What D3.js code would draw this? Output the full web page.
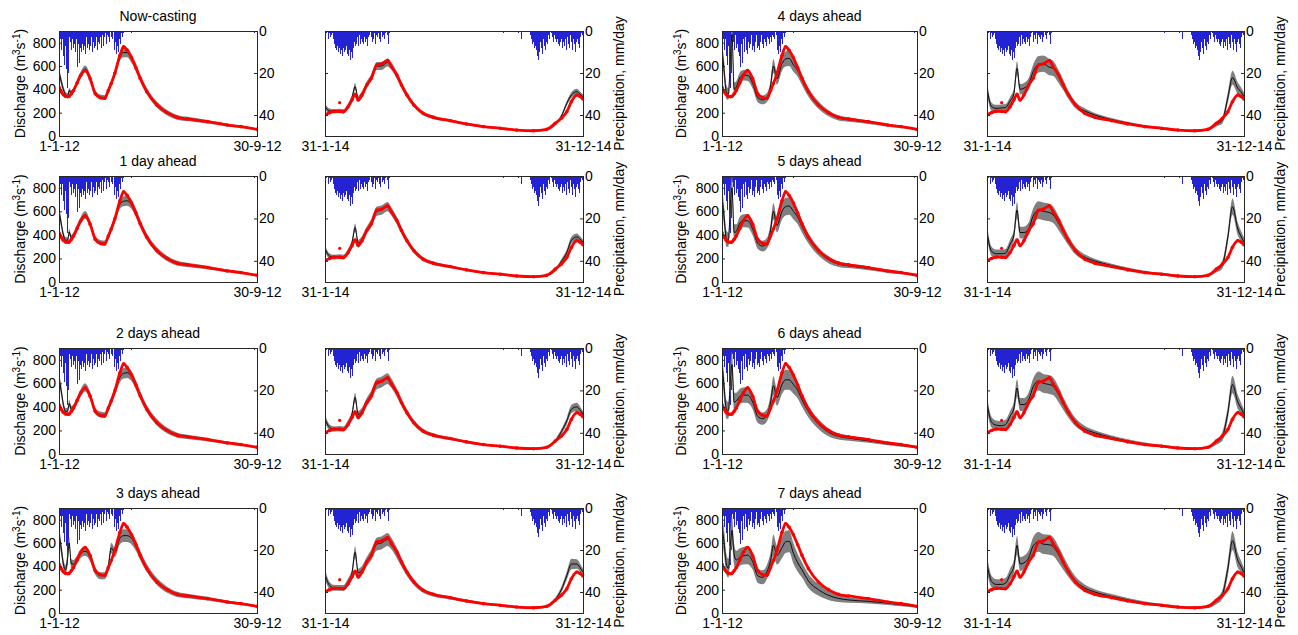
<!DOCTYPE html>
<html>
<head>
<meta charset="utf-8">
<script src="https://cdnjs.cloudflare.com/ajax/libs/d3/7.8.5/d3.min.js"></script>
<style>
body { margin: 0; background: #fff; }
text { font-family: "Liberation Sans", Arial, sans-serif; }
</style>
</head>
<body>
<svg id="fig" width="1298" height="635"></svg>
<script>
(function () {
// ---- data ----
var horizons = ['Now-casting', '1 day ahead', '2 days ahead', '3 days ahead',
                '4 days ahead', '5 days ahead', '6 days ahead', '7 days ahead']

// day offsets from 1-1-12 and 31-1-14
var days2012 = [0,3,6,9,12,14,17,20,25,30,36,43,50,57,63,68,72,77,84,89,94,100,106,112,121,135,149,163,177,205,232,251,273]
var days2014 = [0,6,12,19,24,30,35,39,43,48,54,60,67,73,81,86,93,99,106,115,127,140,162,183,205,227,248,270,287,298,306,313,319,326,330,334]

// observed discharge (m3/s)
var obs2012 = [417,380,355,340,337,340,362,390,455,520,562,490,362,328,323,390,450,537,690,765,735,670,585,494,380,266,200,160,146,123,94,80,57]
var obs2014 = [180,200,212,210,208,251,310,357,309,351,437,494,609,617,646,594,523,437,351,266,194,160,131,103,80,66,51,45,57,109,152,208,294,351,340,317]
var obsOutlier2014 = [19, 286]

// ensemble median per horizon
var median2012 = [
  [551,470,400,355,345,390,370,392,460,525,575,500,370,335,330,395,455,540,680,715,715,665,590,500,385,270,200,160,146,123,94,80,57],
  [603,500,400,355,355,425,375,395,460,525,570,495,368,335,330,390,450,535,660,685,690,660,590,500,385,270,200,160,146,123,94,80,57],
  [645,540,420,360,365,430,380,395,455,520,565,495,365,335,330,390,450,530,650,685,690,660,590,500,385,270,200,160,146,123,94,80,57],
  [671,560,420,370,480,600,420,420,460,510,530,480,360,320,320,400,557,520,640,663,663,640,580,495,385,270,200,160,146,123,94,80,57],
  [740,560,380,360,700,870,400,420,500,520,520,450,330,310,330,430,600,490,620,660,665,610,560,480,375,265,195,155,140,118,92,78,57],
  [720,550,370,360,680,800,420,430,500,520,520,450,330,305,330,440,600,480,600,640,645,600,550,470,370,260,190,152,138,116,90,76,57],
  [780,560,380,370,650,760,440,450,490,500,500,440,320,300,330,440,580,480,590,630,630,590,540,460,360,255,185,150,135,112,88,74,57],
  [740,600,420,383,600,709,500,454,480,490,496,440,320,306,354,450,581,496,560,610,615,511,430,370,275,200,152,125,112,100,85,71,57]
]
var median2014 = [
  [251,215,212,215,212,260,330,423,320,360,440,500,600,600,630,600,520,440,355,268,195,160,131,103,80,66,51,45,55,100,170,280,351,380,360,337],
  [283,220,212,215,212,262,335,462,330,365,440,500,600,610,640,600,520,440,355,268,195,160,131,103,80,66,51,45,55,100,175,250,354,382,365,337],
  [300,225,212,215,212,265,340,480,335,365,440,500,595,610,640,600,520,440,355,268,195,160,131,103,80,66,51,45,55,110,190,280,380,400,375,337],
  [330,235,215,215,215,270,345,520,345,370,440,500,590,600,630,595,515,435,350,265,193,158,130,103,80,66,51,45,55,115,200,320,420,420,390,350],
  [409,251,237,240,244,300,366,580,400,410,445,551,615,620,590,580,510,440,350,265,215,180,140,110,85,68,52,45,55,100,137,330,500,409,380,337],
  [420,260,240,240,245,320,400,610,420,420,450,560,610,600,590,570,500,430,350,265,210,178,140,110,85,68,52,45,55,100,150,380,640,450,390,340],
  [430,270,245,240,250,320,390,560,420,420,460,570,620,600,590,575,505,430,350,270,212,180,140,110,85,68,52,45,55,100,150,350,590,440,390,340],
  [420,270,245,245,255,330,400,580,420,430,470,575,610,590,585,570,500,430,355,275,215,180,142,112,86,68,52,45,55,100,160,380,620,450,400,345]
]

// half width of the ensemble band per horizon
var spread2012 = [
  [40,35,30,25,22,22,22,22,25,28,30,28,22,20,20,22,25,30,35,40,40,38,35,30,28,25,22,20,18,15,12,10,8],
  [45,40,30,28,25,28,25,25,28,30,32,30,25,22,22,25,28,32,38,42,42,40,36,32,28,25,22,20,18,15,12,10,8],
  [50,45,35,30,30,32,28,28,30,32,35,32,28,25,25,28,32,35,42,45,45,42,38,34,30,27,24,21,18,15,12,10,8],
  [70,60,45,40,60,50,40,35,35,38,40,38,32,30,30,35,45,40,50,55,55,52,46,40,34,30,26,22,19,16,13,11,9],
  [90,80,60,50,100,90,60,50,45,45,48,45,40,38,38,45,60,50,60,65,65,60,52,45,38,32,26,22,18,15,12,10,9],
  [100,90,70,60,110,100,70,60,55,55,58,55,48,45,45,55,70,60,70,75,75,70,60,52,44,36,30,24,20,16,13,11,10],
  [110,100,80,70,120,110,80,70,65,65,68,62,55,52,52,62,80,70,80,85,85,78,68,58,50,42,34,27,22,17,14,12,10],
  [120,110,90,80,130,120,90,80,75,75,78,70,62,60,60,70,90,80,90,95,95,88,76,65,60,50,40,30,24,18,16,14,12]
]
var spread2014 = [
  [25,20,18,18,18,20,25,30,25,25,28,30,35,35,35,32,30,28,25,20,17,15,12,10,9,8,7,7,8,12,16,20,25,25,22,20],
  [30,22,20,20,20,22,28,35,28,28,30,35,40,40,40,35,32,30,26,21,18,15,12,10,9,8,7,7,8,14,19,25,30,30,25,22],
  [35,25,22,22,22,25,30,40,30,30,35,40,45,45,45,40,35,32,28,23,19,16,13,11,10,9,8,8,9,15,22,30,35,35,30,25],
  [45,30,25,25,25,30,35,50,35,35,40,45,55,55,55,50,45,38,32,25,20,16,14,12,10,9,8,8,9,16,25,35,45,40,35,30],
  [55,35,30,30,30,35,45,60,45,45,50,60,70,70,70,65,55,45,35,28,22,17,14,12,10,9,8,7,9,18,30,45,60,50,40,35],
  [60,40,35,35,35,40,50,70,50,50,55,65,75,75,75,70,60,50,40,32,25,20,16,13,11,10,9,8,10,20,35,50,70,55,45,38],
  [65,45,40,40,40,45,55,75,55,55,60,70,80,80,80,75,65,55,45,35,28,22,18,15,12,11,10,9,11,22,38,55,75,60,48,40],
  [70,50,45,45,45,50,60,80,60,60,65,75,85,85,85,80,70,60,48,38,30,24,20,16,13,12,11,10,12,25,40,60,80,65,50,42]
]

// daily precipitation (mm/day)
var rain2012 = [5,8,4,6,9,4,12,16,10,7, 18,6,27,20,3,0,5,9,4,2, 8,3,6,10,4,12,17,6,15,8,
  4,10,6,3,9,7,11,5,3,8, 6,2,9,4,7,3,10,5,2,8, 4,7,3,9,5,2,6,3,8,4, 2,5,7,3,1,4,6,2,3,5,
  2,0,3,1,4,0,2,9,5,11, 7,3,10,4,2,6,1,3,0,1, 0,0,0,0,0,0,0,0,0,0,1]
var rain2012Late = [1]          // from day 269
var rain2014Spring = [3,5,1,0,2,4,1,3,2,0, 1,4,6,8,5,9,7,10,6,8, 11,7,9,12,8,10,6,9,7,11,
  8,12,9,14,10,6,13,8,5,7, 4,6,3,7,5,2,6,4,3,5, 6,3,2,5,4,7,3,2,1,0, 3,5,2,4,1,3,6,2,3,1,
  4,2,5,0,3,0,2,4,1,0, 0,2,6,0,1,0,0,0]
var rain2014Autumn = [0,0,0,1,0,0,0,0,0,0,0,0, 0,0,0,0,0,0,0,0,0,0,1,0, 0,0,4,0,0,0,0,0,0,0,0,0,
  0,0,2,4,3,6,5,8,7,4,9,12, 14,6,10,5,8,11,6,4,7,9,3,5, 6,2,4,3,0,1,2,3,5,2,4,3,
  5,4,6,3,7,5,4,8,6,5,7,4, 9,5,3,6,4,8,2,5,7,9,4,6, 10,3,5,4,6,2,8,3,1,2,1]   // from day 228

var qTicks = [0, 200, 400, 600, 800]
var pTicks = [0, 20, 40]

// ---- layout ----
var rows = [[31, 136], [176, 282], [348, 454], [508, 613]]
var cols = [
  {a: [59, 257], b: [325, 583], qLab: 25, pLab: 624},
  {a: [722, 917], b: [987, 1244], qLab: 686, pLab: 1285}
]

var toRain = (arr, from) => arr.map((mm, i) => ({day: from + i, mm: mm}))

var periods = [
  {start: new Date(2012, 0, 1), end: new Date(2012, 8, 30), span: 273, days: days2012, obs: obs2012,
   med: median2012, spr: spread2012, rain: toRain(rain2012, 0).concat(toRain(rain2012Late, 269))},
  {start: new Date(2014, 0, 31), end: new Date(2014, 11, 31), span: 334, days: days2014, obs: obs2014,
   med: median2014, spr: spread2014, rain: toRain(rain2014Spring, 0).concat(toRain(rain2014Autumn, 228)),
   outlier: obsOutlier2014}
]

var svg = d3.select('#fig')
var fmt = d3.timeFormat('%-d-%-m-%y')
var clipId = 0

var styleAxis = g => {
  g.select('.domain').remove()
  g.attr('font-size', 14).attr('font-family', '"Liberation Sans", Arial, sans-serif')
  g.selectAll('line').attr('stroke', '#262626')
}

function panel(px, py, per, h, first) {
  var x = d3.scaleTime().domain([per.start, per.end]).range(px)
  var yQ = d3.scaleLinear().domain([0, 900]).range([py[1], py[0]])
  var yP = d3.scaleLinear().domain([0, 50]).range([py[0], py[1]])
  var date = d => d3.timeDay.offset(per.start, d)
  var id = 'clip' + (clipId++)
  svg.append('clipPath').attr('id', id).append('rect')
    .attr('x', px[0]).attr('y', py[0]).attr('width', px[1] - px[0]).attr('height', py[1] - py[0])
  var g = svg.append('g').attr('clip-path', 'url(#' + id + ')')
  var w = Math.max(1, (px[1] - px[0]) / per.span)

  g.selectAll('rect.rain').data(per.rain.filter(d => d.mm > 0)).enter()
    .append('rect')
    .attr('x', d => x(date(d.day)) - w / 2)
    .attr('y', py[0])
    .attr('width', w)
    .attr('height', d => yP(d.mm) - py[0])
    .attr('fill', '#2323d4')
    .attr('shape-rendering', 'crispEdges')

  var med = per.med[h], spr = per.spr[h]
  var idx = d3.range(per.days.length)
  g.append('path')
    .attr('d', d3.area()
      .x(i => x(date(per.days[i])))
      .y0(i => yQ(Math.max(0, med[i] - spr[i])))
      .y1(i => yQ(med[i] + spr[i]))
      .curve(d3.curveMonotoneX)(idx))
    .attr('fill', '#808080')
  g.append('path')
    .attr('d', d3.line().x(i => x(date(per.days[i]))).y(i => yQ(med[i])).curve(d3.curveMonotoneX)(idx))
    .attr('fill', 'none').attr('stroke', '#000').attr('stroke-width', 0.9)
  g.append('path')
    .attr('d', d3.line().x(i => x(date(per.days[i]))).y(i => yQ(per.obs[i])).curve(d3.curveMonotoneX)(idx))
    .attr('fill', 'none').attr('stroke', '#ff0000').attr('stroke-width', 2.8)
  g.selectAll('circle.obs').data(idx).enter()
    .append('circle')
    .attr('cx', i => x(date(per.days[i])))
    .attr('cy', i => yQ(per.obs[i]))
    .attr('r', 1.8).attr('fill', '#ff0000')
  if (per.outlier) {
    g.append('circle')
      .attr('cx', x(date(per.outlier[0]))).attr('cy', yQ(per.outlier[1]))
      .attr('r', 1.6).attr('fill', '#ff0000')
  }

  // frame and axes
  svg.append('rect')
    .attr('x', px[0] + 0.5).attr('y', py[0] + 0.5)
    .attr('width', px[1] - px[0]).attr('height', py[1] - py[0])
    .attr('fill', 'none').attr('stroke', '#262626').attr('stroke-width', 1)

  svg.append('g').attr('transform', 'translate(0,' + py[1] + ')')
    .call(d3.axisBottom(x).tickValues([per.start, per.end]).tickFormat(fmt).tickSize(-3).tickPadding(5))
    .call(styleAxis)

  svg.append('g').attr('transform', 'translate(' + px[1] + ',0)')
    .call(d3.axisRight(yP).tickValues(pTicks).tickSize(-3).tickPadding(2))
    .call(styleAxis)

  if (first) {
    svg.append('g').attr('transform', 'translate(' + px[0] + ',0)')
      .call(d3.axisLeft(yQ).tickValues(qTicks).tickSize(-3).tickPadding(3))
      .call(styleAxis)
  } else {
    svg.append('g').attr('transform', 'translate(' + px[0] + ',0)')
      .call(d3.axisLeft(yP).tickValues([20, 40]).tickSize(-3).tickFormat(''))
      .call(styleAxis)
  }
}

cols.forEach((col, c) => {
  rows.forEach((py, r) => {
    var h = c * 4 + r
    panel(col.a, py, periods[0], h, true)
    panel(col.b, py, periods[1], h, false)
    var cy = (py[0] + py[1]) / 2

    svg.append('text')
      .attr('x', (col.a[0] + col.a[1]) / 2).attr('y', py[0] - 10)
      .attr('text-anchor', 'middle').attr('font-size', 14)
      .text(horizons[h])

    var t = svg.append('text')
      .attr('transform', 'translate(' + col.qLab + ',' + cy + ') rotate(-90)')
      .attr('text-anchor', 'middle').attr('font-size', 14)
    t.append('tspan').text('Discharge (m')
    t.append('tspan').attr('dy', -5).attr('font-size', 10).text('3')
    t.append('tspan').attr('dy', 5).text('s')
    t.append('tspan').attr('dy', -5).attr('font-size', 10).text('-1')
    t.append('tspan').attr('dy', 5).text(')')

    svg.append('text')
      .attr('transform', 'translate(' + col.pLab + ',' + cy + ') rotate(-90)')
      .attr('text-anchor', 'middle').attr('font-size', 14)
      .text('Precipitation, mm/day')
  })
})
})();
</script>
</body>
</html>
